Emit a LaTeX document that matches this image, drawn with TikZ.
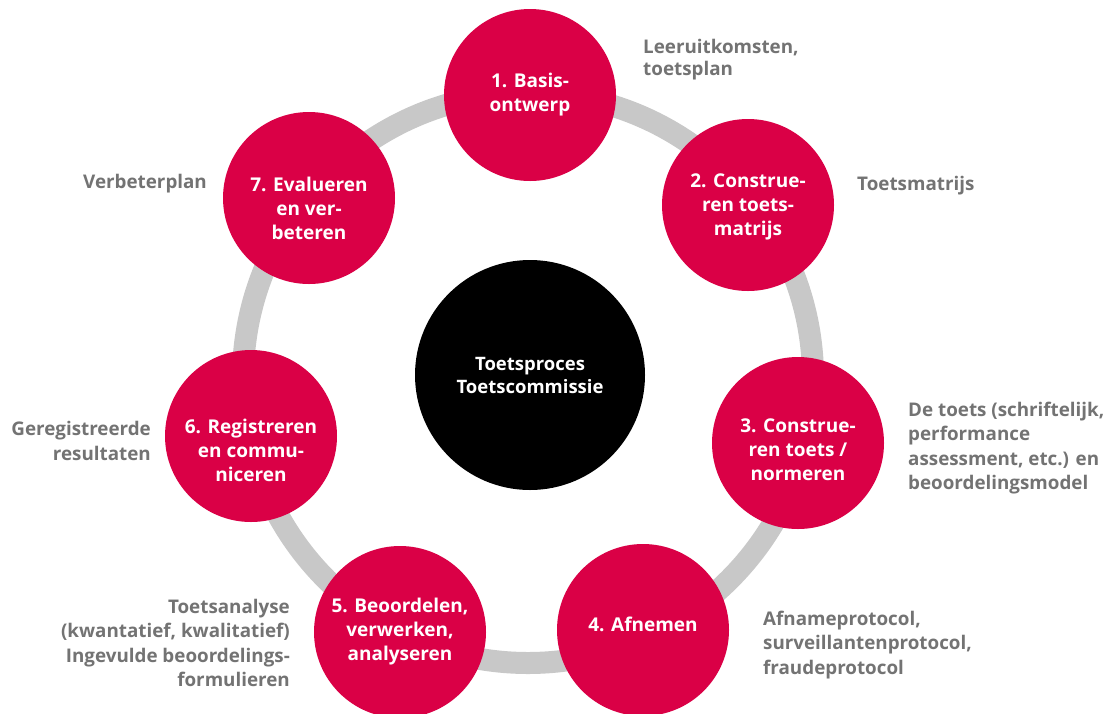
\documentclass[tikz,border=0pt]{standalone}
\usepackage{fontspec}
\setmainfont{Open Sans}
\definecolor{tred}{RGB}{218,0,70}
\definecolor{ringgray}{RGB}{200,200,200}
\definecolor{lblgray}{RGB}{115,115,115}
\begin{document}
\begin{tikzpicture}[x=1pt,y=-1pt,
  stepnode/.style={circle, fill=tred, minimum size=172pt, inner sep=0pt},
  steptext/.style={inner sep=0pt, text=white,
    font=\bfseries\fontsize{19}{24}\selectfont, align=center},
  hub/.style={circle, fill=black, minimum size=230pt, inner sep=0pt, text=white,
    font=\bfseries\fontsize{18.5}{23}\selectfont, align=center},
  lbl/.style={text=lblgray, font=\bfseries\fontsize{18.8}{24.3}\selectfont, inner sep=0pt},
  ringline/.style={draw=ringgray, line width=22pt}
]
\useasboundingbox (0,0) rectangle (1108,713);
\fill[white] (0,0) rectangle (1108,713);
\coordinate (rc) at (528,378);
\draw[ringline] (rc) circle [radius=285];

\node[hub] (hub) at (530,375) {Toetsproces\\Toetscommissie};

\node[stepnode] (s1) at (530,95) {};
\node[stepnode] (s2) at (748,205) {};
\node[stepnode] (s3) at (798,443) {};
\node[stepnode] (s4) at (643,630) {};
\node[stepnode] (s5) at (400,632) {};
\node[stepnode] (s6) at (251,436) {};
\node[stepnode] (s7) at (309,198) {};

\node[steptext] (t1) at (s1.center) {1. Basis-\\ontwerp};
\node[steptext] (t2) at ([yshift=-2pt]s2.center) {2. Construe-\\ren toets-\\matrijs};
\node[steptext] (t3) at ([yshift=-7pt]s3.center) {3. Construe-\\ren toets /\\normeren};
\node[steptext] (t4) at ([yshift=6pt]s4.center) {4. Afnemen};
\node[steptext] (t5) at (s5.center) {5. Beoordelen,\\verwerken,\\analyseren};
\node[steptext] (t6) at ([yshift=-14pt]s6.center) {6. Registreren\\en commu-\\niceren};
\node[steptext] (t7) at ([yshift=-10pt]s7.center) {7. Evalueren\\en ver-\\beteren};

\node[lbl, anchor=west, align=left, font=\bfseries\fontsize{18.8}{22}\selectfont] (l1) at (643,60) {Leeruitkomsten,\\toetsplan};
\node[lbl, anchor=west, align=left] (l2) at (857,186) {Toetsmatrijs};
\node[lbl, anchor=west, align=left] (l3) at (908,448) {De toets (schriftelijk,\\performance\\assessment, etc.) en\\beoordelingsmodel};
\node[lbl, anchor=west, align=left] (l4) at (763,645) {Afnameprotocol,\\surveillantenprotocol,\\fraudeprotocol};
\node[lbl, anchor=east, align=right] (l5) at (290,643) {Toetsanalyse\ \\(kwantatief, kwalitatief)\\Ingevulde beoordelings-\\formulieren};
\node[lbl, anchor=east, align=right] (l6) at (151,441) {Geregistreerde\\resultaten};
\node[lbl, anchor=west, align=left] (l7) at (83,184) {Verbeterplan};
\end{tikzpicture}
\end{document}
